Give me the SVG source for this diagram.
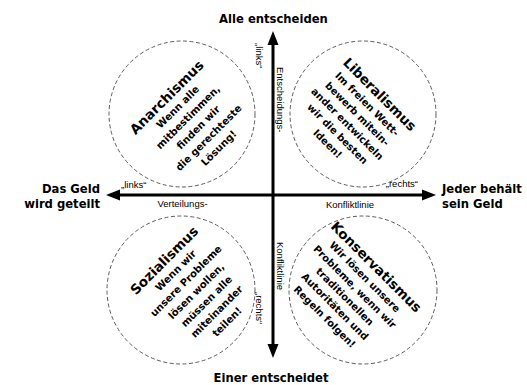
<svg xmlns="http://www.w3.org/2000/svg" width="527" height="385" viewBox="0 0 527 385">
<style>
.circ{fill:#fff;stroke:#333;stroke-width:0.8;stroke-dasharray:4 2.5}
.title{font-family:"DejaVu Sans",Verdana,sans-serif;font-weight:bold;font-size:13.5px;fill:#000;text-anchor:middle}
.body{font-family:"DejaVu Sans",Verdana,sans-serif;font-weight:bold;font-size:10px;fill:#000;text-anchor:middle}
.ax{font-family:"DejaVu Sans",Verdana,sans-serif;font-weight:bold;font-size:11.6px;fill:#000}
.sm{font-family:"Liberation Sans",Arial,sans-serif;font-size:9.5px;fill:#000}
.axis{stroke:#000;stroke-width:3;fill:none}
.head{fill:#000}
</style>
<g id="connectors">
<line class="axis" x1="273" y1="44" x2="273" y2="346"/>
<line class="axis" x1="118" y1="195" x2="424" y2="195"/>
<polygon class="head" points="273,31 267.5,45 278.5,45"/>
<polygon class="head" points="273,358 267.5,344 278.5,344"/>
<polygon class="head" points="106,195 120,189.5 120,200.5"/>
<polygon class="head" points="436,195 422,189.5 422,200.5"/>
<text class="sm" x="121" y="188">„links“</text>
<text class="sm" x="182.5" y="207" text-anchor="middle">Verteilungs-</text>
<text class="sm" x="418" y="187" text-anchor="end">„rechts“</text>
<text class="sm" x="350" y="208" text-anchor="middle">Konfliktlinie</text>
<text class="sm" transform="translate(256,43) rotate(90)">„links“</text>
<text class="sm" transform="translate(277,67) rotate(90)">Entscheidungs-</text>
<text class="sm" transform="translate(277,242) rotate(90)">Konfliktlinie</text>
<text class="sm" transform="translate(256,292) rotate(90)">„rechts“</text>
</g>
<g id="top-label"><text class="ax" x="273.5" y="23" text-anchor="middle">Alle entscheiden</text></g>
<g id="bottom-label"><text class="ax" x="271" y="382" text-anchor="middle">Einer entscheidet</text></g>
<g id="left-label"><text class="ax" text-anchor="end"><tspan x="100" y="193">Das Geld</tspan><tspan x="100" y="208">wird geteilt</tspan></text></g>
<g id="right-label"><text class="ax"><tspan x="442" y="193">Jeder behält</tspan><tspan x="442" y="208">sein Geld</tspan></text></g>
<g id="anarchismus">
<circle class="circ" cx="182" cy="114" r="73"/>
<g transform="translate(182,114) rotate(-45)">
<text class="title" x="1" y="-18">Anarchismus</text>
<text class="body"><tspan x="2" y="-4.5">Wenn alle</tspan><tspan x="2" y="10">mitbestimmen,</tspan><tspan x="2" y="24.5">finden wir</tspan><tspan x="2" y="39">die gerechteste</tspan><tspan x="2" y="53.5">Lösung!</tspan></text>
</g>
</g>
<g id="liberalismus">
<circle class="circ" cx="363" cy="114" r="73"/>
<g transform="translate(363,114) rotate(45)">
<text class="title" x="-2" y="-21">Liberalismus</text>
<text class="body"><tspan x="-4" y="-6.5">Im freien Wett-</tspan><tspan x="-4" y="7.5">bewerb mitein-</tspan><tspan x="-4" y="21.5">ander entwickeln</tspan><tspan x="-4" y="35.5">wir die besten</tspan><tspan x="-4" y="49.5">Ideen!</tspan></text>
</g>
</g>
<g id="sozialismus">
<circle class="circ" cx="181" cy="290" r="74"/>
<g transform="translate(181,290) rotate(-45)">
<text class="title" x="9" y="-28">Sozialismus</text>
<text class="body"><tspan x="10" y="-14">Wenn wir</tspan><tspan x="10" y="0.5">unsere Probleme</tspan><tspan x="10" y="15">lösen wollen,</tspan><tspan x="10" y="29.5">müssen alle</tspan><tspan x="10" y="44">miteinander</tspan><tspan x="10" y="58.5">teilen!</tspan></text>
</g>
</g>
<g id="konservatismus">
<circle class="circ" cx="363" cy="290" r="74"/>
<g transform="translate(363,290) rotate(45)">
<text class="title" x="-7" y="-21">Konservatismus</text>
<text class="body"><tspan x="-8" y="-7">Wir lösen unsere</tspan><tspan x="-8" y="7">Probleme, wenn wir</tspan><tspan x="-8" y="21">traditionellen</tspan><tspan x="-8" y="35">Autoritäten und</tspan><tspan x="-8" y="49.5">Regeln folgen!</tspan></text>
</g>
</g>
</svg>
